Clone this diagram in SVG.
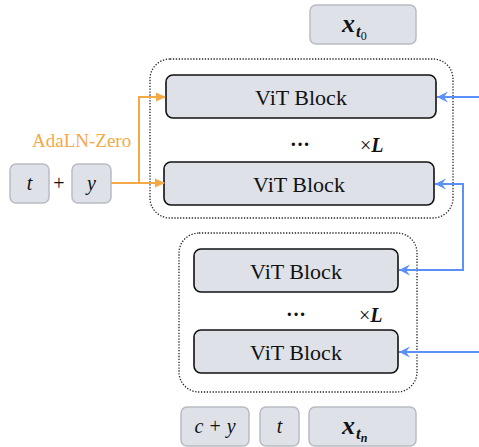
<svg xmlns="http://www.w3.org/2000/svg" width="479" height="447" viewBox="0 0 479 447">
<style>
text{font-family:"Liberation Serif","DejaVu Serif","Times New Roman",serif}
.inp{fill:#dee2e8;stroke:#b8bcc2;stroke-width:1.5}
.blk{fill:#dee2e8;stroke:#111;stroke-width:1.6}
.cont{fill:none;stroke:#222;stroke-width:1.3;stroke-dasharray:1.3 1.6}
.vt{font-size:22px;fill:#111;text-anchor:middle}
.m{font-style:italic;font-size:20px;fill:#111;text-anchor:middle}
.mb{font-style:italic;font-weight:bold;fill:#111}
.dots{font-size:20px;font-weight:bold;fill:#111;text-anchor:middle}
.xl{font-size:20px;fill:#111}
.or{fill:none;stroke:#f4a947;stroke-width:2}
.bl{fill:none;stroke:#5b8ff9;stroke-width:2}
</style>
<defs>
<marker id="ao" markerWidth="10" markerHeight="10" refX="9" refY="5" orient="auto" markerUnits="userSpaceOnUse"><path d="M0,0.5 L10,5 L0,9.5 Z" fill="#f4a947"/></marker>
<marker id="ab" markerWidth="12" markerHeight="12" refX="11" refY="6" orient="auto" markerUnits="userSpaceOnUse"><path d="M0,0.5 L11,6 L0,11.5 L4,6 Z" fill="#5b8ff9"/></marker>
</defs>
<g id="x_t0"><rect class="inp" x="310" y="5" width="106" height="39" rx="6"/><text class="mb" x="342" y="32" font-size="26">x<tspan font-size="17" dx="1" dy="5">t</tspan><tspan font-size="12" font-style="normal" font-weight="normal" dy="3">0</tspan></text></g>
<g id="stack1">
<rect class="cont" x="150" y="59" width="303" height="159" rx="20"/>
<text class="dots" x="300" y="151">···</text>
<text class="xl" x="360" y="152">×<tspan font-style="italic" font-weight="bold">L</tspan></text>
</g>
<g id="vit1"><rect class="blk" x="166" y="75" width="270" height="43" rx="7"/><text class="vt" x="301" y="105">ViT Block</text></g>
<g id="vit2"><rect class="blk" x="164" y="162" width="270" height="43" rx="7"/><text class="vt" x="299" y="192">ViT Block</text></g>
<g id="stack2">
<rect class="cont" x="179" y="233" width="238" height="159" rx="20"/>
<text class="dots" x="296" y="321">···</text>
<text class="xl" x="359" y="322">×<tspan font-style="italic" font-weight="bold">L</tspan></text>
</g>
<g id="vit3"><rect class="blk" x="194" y="249" width="204" height="43" rx="7"/><text class="vt" x="296" y="279">ViT Block</text></g>
<g id="vit4"><rect class="blk" x="194" y="330" width="204" height="43" rx="7"/><text class="vt" x="296" y="360">ViT Block</text></g>
<g id="t_in"><rect class="inp" x="10" y="164" width="39" height="39" rx="6"/><text class="m" x="29.5" y="190">t</text></g>
<g id="plus"><text x="59" y="190" font-size="20" fill="#111" text-anchor="middle">+</text></g>
<g id="y_in"><rect class="inp" x="72" y="164" width="39" height="39" rx="6"/><text class="m" x="91.5" y="190">y</text></g>
<g id="cy"><rect class="inp" x="181" y="407" width="68" height="39" rx="6"/><text class="m" x="215" y="433">c + y</text></g>
<g id="t2"><rect class="inp" x="260" y="407" width="39" height="39" rx="6"/><text class="m" x="279.5" y="433">t</text></g>
<g id="x_tn"><rect class="inp" x="309" y="407" width="107" height="39" rx="6"/><text class="mb" x="342" y="434" font-size="26">x<tspan font-size="17" dx="1" dy="5">t</tspan><tspan font-size="12" dy="3">n</tspan></text></g>
<g id="connectors">
<text x="32" y="147" font-size="19" fill="#f4a947">AdaLN-Zero</text>
<path class="or" d="M111,183 H164" marker-end="url(#ao)"/>
<path class="or" d="M139,183 V97 H165" marker-end="url(#ao)"/>
<path class="bl" d="M479,97 H437" marker-end="url(#ab)"/>
<path class="bl" d="M463,225 V184 H435" marker-end="url(#ab)"/>
<path class="bl" d="M463,220 V270 H399" marker-end="url(#ab)"/>
<path class="bl" d="M479,352 H399" marker-end="url(#ab)"/>
</g>
</svg>
